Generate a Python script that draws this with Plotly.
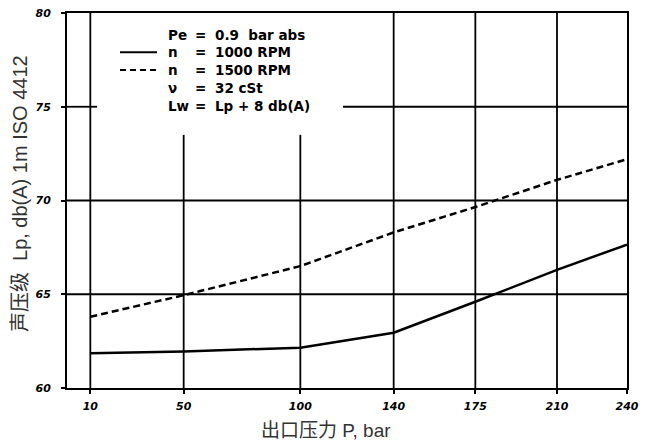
import plotly.graph_objects as go

# Outlet pressure (bar) and sound pressure level, dB(A)
pressure = [10, 50, 100, 140, 175, 210, 240]
lp_1000rpm = [61.85, 61.95, 62.15, 62.95, 64.6, 66.3, 67.65]
lp_1500rpm = [63.8, 64.95, 66.5, 68.3, 69.65, 71.1, 72.2]

x_ticks = [10, 50, 100, 140, 175, 210, 240]
y_ticks = [60, 65, 70, 75, 80]

# operating conditions block: symbol and value columns
note_symbols = ["Pe", "n", "n", "ν", "Lw"]
note_values = ["0.9  bar abs", "1000 RPM", "1500 RPM", "32 cSt", "Lp + 8 db(A)"]

x_title = "出口压力 P, bar"
y_title = "声压级  Lp, db(A) 1m ISO 4412"

# plot area in pixels (left, right, top, bottom)
PL, PR, PT, PB = 67, 627, 7, 388


def px(xp):
    return (xp - PL) / (PR - PL)


def py(yp):
    return (PB - yp) / (PB - PT)


fig = go.Figure()

fig.add_trace(go.Scatter(
    x=pressure, y=lp_1000rpm, mode="lines",
    line=dict(color="black", width=2.5), showlegend=False, hoverinfo="skip"))
fig.add_trace(go.Scatter(
    x=pressure, y=lp_1500rpm, mode="lines",
    line=dict(color="black", width=2.5, dash="7px,4px"), showlegend=False, hoverinfo="skip"))

grid = dict(color="black", width=1.8)
shapes = []
# vertical grid lines; the two inside the note block stop below it
for xv in x_ticks[:-1]:
    top = 73.5 if xv in (50, 100) else 80
    shapes.append(dict(type="line", xref="x", yref="y", x0=xv, x1=xv, y0=60, y1=top,
                       line=grid, layer="below"))
# horizontal grid lines; the 75 line is broken by the note block
for yv in (65, 70):
    shapes.append(dict(type="line", xref="x", yref="y", x0=0, x1=240, y0=yv, y1=yv,
                       line=grid, layer="below"))
for x0, x1 in ((0, 12.9), (118.3, 240)):
    shapes.append(dict(type="line", xref="x", yref="y", x0=x0, x1=x1, y0=75, y1=75,
                       line=grid, layer="below"))

# line samples next to the speed notes
shapes.append(dict(type="line", xref="paper", yref="paper",
                   x0=px(120), x1=px(157), y0=py(47), y1=py(47),
                   line=dict(color="black", width=2)))
shapes.append(dict(type="line", xref="paper", yref="paper",
                   x0=px(120), x1=px(157), y0=py(65), y1=py(65),
                   line=dict(color="black", width=2, dash="6px,4px")))

note_font = dict(family="DejaVu Sans", size=13.5, color="black", weight="bold")
annotations = []
for i, (sym, val) in enumerate(zip(note_symbols, note_values)):
    yrow = py(29 + 18 * i)
    for xpos, txt in ((166, sym), (193, "="), (213, val)):
        annotations.append(dict(
            xref="paper", yref="paper", x=px(xpos), y=yrow,
            xanchor="left", yanchor="middle", showarrow=False,
            text=txt.replace(" ", "&nbsp;"), font=note_font))

title_font = dict(family="Liberation Sans, Noto Sans CJK SC", size=19, color="#333333")
annotations.append(dict(
    xref="paper", yref="paper", x=px(326), y=py(431), xanchor="center", yanchor="middle",
    showarrow=False, text=x_title, font=title_font))
annotations.append(dict(
    xref="paper", yref="paper", x=px(20), y=py(191), xanchor="center", yanchor="middle",
    showarrow=False, text=y_title, textangle=-90, font=dict(title_font, size=20)))

tickfont = dict(family="DejaVu Sans", size=11, color="black", weight="bold", style="italic")

fig.update_layout(
    width=655, height=445,
    margin=dict(l=PL, r=655 - PR, t=PT, b=445 - PB),
    paper_bgcolor="white", plot_bgcolor="white",
    showlegend=False,
    shapes=shapes,
    annotations=annotations,
    xaxis=dict(
        range=[0, 240], tickvals=x_ticks, ticktext=[str(v) for v in x_ticks],
        showgrid=False, zeroline=False,
        showline=True, linecolor="black", linewidth=2, mirror=True,
        ticks="outside", ticklen=4, tickwidth=2, tickcolor="black",
        tickfont=tickfont, ticklabelstandoff=3,
    ),
    yaxis=dict(
        range=[60, 80], tickvals=y_ticks, ticktext=[str(v) for v in y_ticks],
        showgrid=False, zeroline=False,
        showline=True, linecolor="black", linewidth=2, mirror=True,
        ticks="outside", ticklen=4, tickwidth=2, tickcolor="black",
        tickfont=tickfont, ticklabelstandoff=8,
    ),
)

fig.write_html("out.html")
